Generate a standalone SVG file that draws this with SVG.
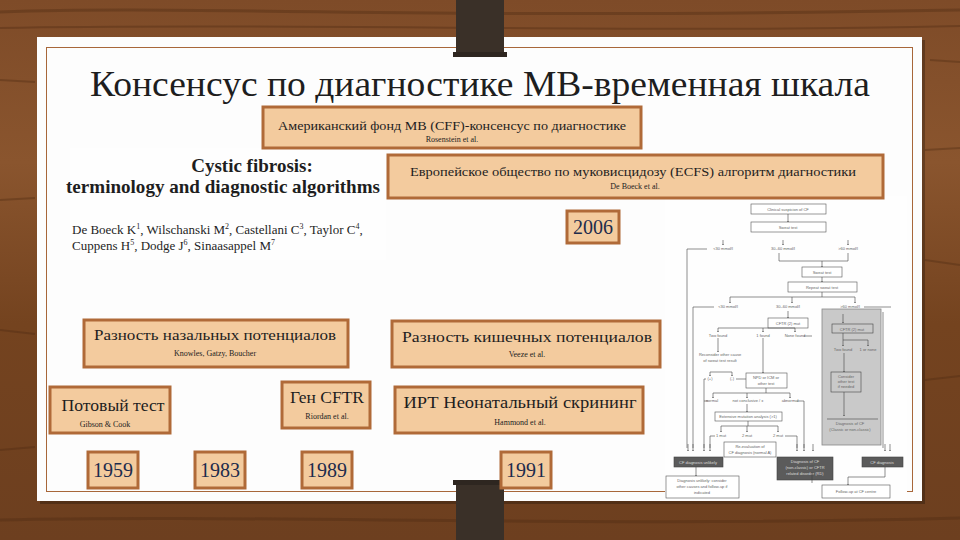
<svg xmlns="http://www.w3.org/2000/svg" width="960" height="540" viewBox="0 0 960 540" font-family="'Liberation Serif', 'DejaVu Serif', serif">
<defs>
<linearGradient id="wood" x1="0" y1="0" x2="0" y2="1">
<stop offset="0" stop-color="#7e4b28"/>
<stop offset="0.3" stop-color="#8a552e"/>
<stop offset="0.6" stop-color="#74431f"/>
<stop offset="1" stop-color="#6d3f1f"/>
</linearGradient>
<marker id="ah" viewBox="0 0 6 6" refX="5" refY="3" markerWidth="3" markerHeight="3" orient="auto">
<path d="M0,0 L6,3 L0,6 z" fill="#333"/>
</marker>
</defs>
<style>
.box{fill:#f3cb9e;stroke:#b06a38;stroke-width:3}
.t{fill:#1e1e1e}
.sub{fill:#222;font-size:8px;text-anchor:middle}
.yr{fill:#1d2b4c;font-size:20px;text-anchor:middle}
.fb{fill:#fff;stroke:#555;stroke-width:0.6}
.fl{fill:none;stroke:#444;stroke-width:0.6}
.fa{fill:none;stroke:#444;stroke-width:0.6;marker-end:url(#ah)}
.ft{font-family:'Liberation Sans',Arial,sans-serif;font-size:4px;fill:#666;text-anchor:middle}
.fw{font-family:'Liberation Sans',Arial,sans-serif;font-size:4px;fill:#ddd;text-anchor:middle}
.dk{fill:#5b5b5b;stroke:#444;stroke-width:0.6}
</style>
<rect x="0" y="0" width="960" height="540" fill="url(#wood)"/>
<g opacity="0.35" stroke="#4a2810" fill="none">
<path d="M0,12 C200,5 400,20 960,10" stroke-width="3"/>
<path d="M0,28 C300,22 600,34 960,26" stroke-width="2"/>
<path d="M0,520 C250,514 600,528 960,518" stroke-width="3"/>
<path d="M930,60 L960,62 M925,150 L960,148 M925,260 L960,265 M925,380 L960,376" stroke-width="2"/>
<path d="M0,80 L35,82 M0,200 L35,198 M0,330 L35,334 M0,450 L35,447" stroke-width="2"/>
</g>
<rect x="40" y="40" width="885" height="464" fill="#000" opacity="0.25"/>
<rect x="37" y="37" width="885" height="464" fill="#fdfdfd"/>
<rect x="46.5" y="47.5" width="866" height="444" fill="none" stroke="#a8673a" stroke-width="1"/>
<g id="clip-top"><rect x="456" y="0" width="48" height="54" fill="#3a3028"/><rect x="453" y="52" width="54" height="5" fill="#2e2620"/></g>
<g id="clip-bottom"><rect x="456" y="483" width="48" height="57" fill="#3a3028"/><rect x="453" y="480" width="54" height="5" fill="#2e2620"/></g>
<text class="t" x="480" y="96" font-size="36" text-anchor="middle" textLength="780" lengthAdjust="spacingAndGlyphs">Консенсус по диагностике МВ-временная шкала</text>
<g id="paper-cf">
<rect x="70" y="148" width="316" height="112" fill="#fefefe"/>
<text class="t" x="252" y="172" font-size="19" font-weight="bold" text-anchor="middle" fill="#111">Cystic fibrosis:</text>
<text class="t" x="223" y="193" font-size="19" font-weight="bold" text-anchor="middle" fill="#111" textLength="314" lengthAdjust="spacingAndGlyphs">terminology and diagnostic algorithms</text>
<text class="t" x="72" y="234" font-size="13" fill="#222">De Boeck K<tspan font-size="8" dy="-5">1</tspan><tspan dy="5">, Wilschanski M</tspan><tspan font-size="8" dy="-5">2</tspan><tspan dy="5">, Castellani C</tspan><tspan font-size="8" dy="-5">3</tspan><tspan dy="5">, Taylor C</tspan><tspan font-size="8" dy="-5">4</tspan><tspan dy="5">,</tspan></text>
<text class="t" x="72" y="250" font-size="13" fill="#222">Cuppens H<tspan font-size="8" dy="-5">5</tspan><tspan dy="5">, Dodge J</tspan><tspan font-size="8" dy="-5">6</tspan><tspan dy="5">, Sinaasappel M</tspan><tspan font-size="8" dy="-5">7</tspan></text>
</g>
<g id="flowchart">
<rect x="665" y="196" width="242" height="304" fill="#fefefe"/>
<rect class="fb" x="751" y="204" width="75" height="10"/><text class="ft" x="788" y="210.5">Clinical suspicion of CF</text>
<rect class="fb" x="751" y="222" width="75" height="10"/><text class="ft" x="788" y="228.5">Sweat test</text>
<path class="fa" d="M788,214 V222"/>
<path class="fa" d="M723,240 V245"/><path class="fa" d="M783,240 V245"/><path class="fa" d="M848,240 V245"/>
<text class="ft" x="723" y="250">&lt;30 mmol/l</text><text class="ft" x="783" y="250">30–60 mmol/l</text><text class="ft" x="848" y="250">&gt;60 mmol/l</text>
<path class="fl" d="M707,249 H687 V448"/>
<path class="fl" d="M779,253 V261 H848 V253"/>
<path class="fa" d="M822,261 V267"/>
<rect class="fb" x="802" y="267" width="40" height="10"/><text class="ft" x="822" y="273.5">Sweat test</text>
<path class="fa" d="M822,277 V282"/>
<rect class="fb" x="788" y="282" width="69" height="10"/><text class="ft" x="822" y="288.5">Repeat sweat test</text>
<path class="fl" d="M822,292 V297"/>
<path class="fl" d="M730,297 H855"/>
<path class="fa" d="M730,297 V303"/><path class="fa" d="M792,297 V303"/><path class="fa" d="M855,297 V303"/>
<text class="ft" x="728" y="308">&lt;30 mmol/l</text><text class="ft" x="788" y="308">30–60 mmol/l</text><text class="ft" x="850" y="308">&gt;60 mmol/l</text>
<path class="fl" d="M714,307 H693 V448"/>
<path class="fl" d="M864,307 H891"/>
<rect x="822" y="309" width="59" height="136" fill="#c9c9c9" stroke="#888" stroke-width="0.8"/>
<path class="fl" d="M883,312 V448"/>
<rect class="fb" x="768" y="318" width="40" height="10"/><text class="ft" x="788" y="324.5">CFTR (2) mut</text>
<path class="fa" d="M788,311 V318"/>
<path class="fl" d="M718,328 H795"/>
<path class="fa" d="M718,328 V332"/><path class="fa" d="M763,328 V332"/><path class="fa" d="M795,328 V332"/>
<text class="ft" x="718" y="337">Two found</text><text class="ft" x="763" y="337">1 found</text><text class="ft" x="795" y="337">None found</text>
<path class="fl" d="M804,336 H812"/>
<path class="fa" d="M718,338 V352"/>
<text class="ft" x="720" y="356">Reconsider other cause</text><text class="ft" x="720" y="362">of sweat test result</text>
<path class="fl" d="M710,372 H732"/>
<path class="fa" d="M710,372 V376"/><path class="fa" d="M732,372 V376"/>
<text class="ft" x="710" y="380">(+)</text><text class="ft" x="732" y="380">(-)</text>
<path class="fl" d="M706,379 H704 V448"/>
<path class="fl" d="M736,379 H746"/>
<path class="fa" d="M763,338 V373"/>
<rect class="fb" x="746" y="373" width="41" height="15"/><text class="ft" x="766" y="379">NPD or ICM or</text><text class="ft" x="766" y="385">other test</text>
<path class="fl" d="M713,393 H790"/>
<path class="fl" d="M766,388 V393"/>
<path class="fa" d="M713,393 V398"/><path class="fa" d="M747,393 V398"/><path class="fa" d="M790,393 V398"/>
<text class="ft" x="712" y="402">normal</text><text class="ft" x="748" y="402">not conclusive / ±</text><text class="ft" x="790" y="402">abnormal</text>
<path class="fl" d="M797,401 H804 V448"/>
<path class="fl" d="M704,401 H708"/>
<path class="fa" d="M747,404 V412"/>
<rect class="fb" x="715" y="412" width="67" height="9"/><text class="ft" x="748" y="418">Extensive mutation analysis (&gt;1)</text>
<path class="fl" d="M748,421 V426 M721,426 H778"/>
<path class="fa" d="M721,426 V432"/><path class="fa" d="M747,426 V432"/><path class="fa" d="M778,426 V432"/>
<text class="ft" x="721" y="437">1 mut</text><text class="ft" x="747" y="437">2 mut</text><text class="ft" x="778" y="437">2 mut</text>
<path class="fl" d="M715,436 H710 V448"/>
<path class="fl" d="M785,436 H797 V448"/>
<rect class="fb" x="724" y="442" width="52" height="15"/><text class="ft" x="750" y="448">Re-evaluation of</text><text class="ft" x="750" y="454">CF diagnosis (normal A)</text>
<path class="fa" d="M843,314 V323"/>
<rect x="832" y="324" width="41" height="9" fill="#c9c9c9" stroke="#444" stroke-width="0.6"/><text class="ft" x="852" y="330.5">CFTR (2) mut</text>
<path class="fl" d="M843,333 V340 M843,340 H868"/>
<path class="fa" d="M843,340 V346"/><path class="fa" d="M868,340 V346"/>
<text class="ft" x="843" y="351">Two found</text><text class="ft" x="868" y="351">1 or none</text>
<path class="fa" d="M844,353 V372"/>
<rect x="831" y="372" width="30" height="20" fill="#c9c9c9" stroke="#444" stroke-width="0.6"/><text class="ft" x="846" y="378">Consider</text><text class="ft" x="846" y="383">other test</text><text class="ft" x="846" y="388">if needed</text>
<path class="fa" d="M844,392 V416"/>
<path class="fl" d="M827,419 H878"/>
<text class="ft" x="850" y="425">Diagnosis of CF</text><text class="ft" x="850" y="431">(Classic or non-classic)</text>
<path class="fa" d="M688,444 V451"/><path class="fa" d="M693,444 V451"/><path class="fa" d="M704,444 V451"/><path class="fa" d="M710,444 V451"/>
<path class="fa" d="M797,444 V451"/><path class="fa" d="M804,444 V451"/><path class="fa" d="M813,444 V451"/>
<path class="fa" d="M885,444 V451"/><path class="fa" d="M890,444 V451"/>
<rect class="dk" x="674" y="457" width="49" height="10"/><text class="fw" x="698" y="463.5">CF diagnosis unlikely</text>
<rect class="dk" x="777" y="457" width="56" height="23"/><text class="fw" x="805" y="463">Diagnosis of CF</text><text class="fw" x="805" y="469">(non-classic) or CFTR</text><text class="fw" x="805" y="475">related disorder (RD)</text>
<rect class="dk" x="862" y="457" width="41" height="10"/><text class="fw" x="882" y="463.5">CF diagnosis</text>
<path class="fa" d="M696,467 V476"/>
<rect class="fb" x="666" y="476" width="73" height="22"/><text class="ft" x="702" y="482">Diagnosis unlikely: consider</text><text class="ft" x="702" y="488">other causes and follow-up if</text><text class="ft" x="702" y="494">indicated</text>
<path class="fl" d="M812,472 V483"/>
<path class="fl" d="M885,467 V477 H848"/>
<path class="fa" d="M848,477 V485"/>
<rect class="fb" x="822" y="485" width="68" height="13"/><text class="ft" x="856" y="493">Follow-up at CF centre</text>
</g>
<g id="box-cff"><rect class="box" x="263" y="107" width="378" height="41"/>
<text class="t" x="452" y="130" font-size="12.5" text-anchor="middle" textLength="348" lengthAdjust="spacingAndGlyphs">Американский фонд МВ (CFF)-консенсус по диагностике</text>
<text class="sub" x="452" y="142">Rosenstein et al.</text></g>
<g id="box-ecfs"><rect class="box" x="388" y="155" width="495" height="43"/>
<text class="t" x="633" y="176" font-size="12.5" text-anchor="middle" textLength="446" lengthAdjust="spacingAndGlyphs">Европейское общество по муковисцидозу (ECFS) алгоритм диагностики</text>
<text class="sub" x="635" y="189">De Boeck et al.</text></g>
<g id="y2006"><rect class="box" x="567" y="211" width="52" height="32"/><text class="yr" x="593" y="234">2006</text></g>
<g id="box-npd"><rect class="box" x="84" y="320" width="264" height="47"/>
<text class="t" x="215" y="340" font-size="15" text-anchor="middle" textLength="242" lengthAdjust="spacingAndGlyphs">Разность назальных потенциалов</text>
<text class="sub" x="215" y="356">Knowles, Gatzy, Boucher</text></g>
<g id="box-icm"><rect class="box" x="392" y="321" width="268" height="46"/>
<text class="t" x="527" y="342" font-size="15" text-anchor="middle" textLength="250" lengthAdjust="spacingAndGlyphs">Разность кишечных потенциалов</text>
<text class="sub" x="527" y="357">Veeze et al.</text></g>
<g id="box-sweat"><rect class="box" x="50" y="387" width="120" height="46"/>
<text class="t" x="113" y="411" font-size="16" text-anchor="middle" textLength="103" lengthAdjust="spacingAndGlyphs">Потовый тест</text>
<text class="sub" x="105" y="427">Gibson &amp; Cook</text></g>
<g id="box-cftr"><rect class="box" x="282" y="382" width="88" height="46"/>
<text class="t" x="327" y="403" font-size="17" text-anchor="middle" textLength="74" lengthAdjust="spacingAndGlyphs">Ген CFTR</text>
<text class="sub" x="327" y="419">Riordan et al.</text></g>
<g id="box-irt"><rect class="box" x="395" y="387" width="248" height="46"/>
<text class="t" x="520" y="408" font-size="16" text-anchor="middle" textLength="233" lengthAdjust="spacingAndGlyphs">ИРТ Неонатальный скрининг</text>
<text class="sub" x="520" y="425">Hammond et al.</text></g>
<g id="y1959"><rect class="box" x="88" y="452" width="50" height="36"/><text class="yr" x="113" y="477">1959</text></g>
<g id="y1983"><rect class="box" x="195" y="452" width="50" height="36"/><text class="yr" x="220" y="477">1983</text></g>
<g id="y1989"><rect class="box" x="302" y="452" width="50" height="36"/><text class="yr" x="327" y="477">1989</text></g>
<g id="y1991"><rect class="box" x="501" y="452" width="50" height="36"/><text class="yr" x="526" y="477">1991</text></g>
</svg>
